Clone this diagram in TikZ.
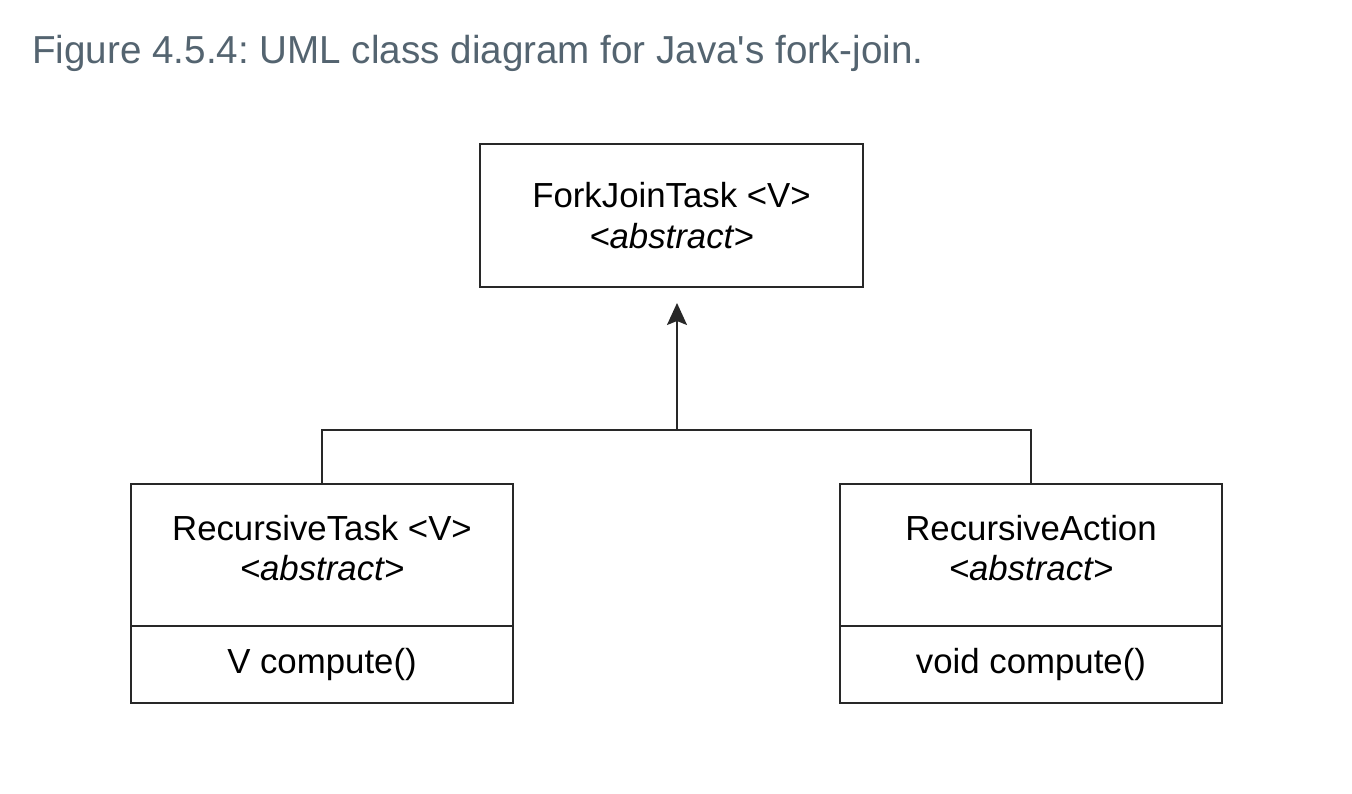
\documentclass[tikz,border=0pt]{standalone}
\usepackage{fontspec}
\setmainfont{Liberation Sans}
\usetikzlibrary{arrows.meta,positioning}
\definecolor{TitleClr}{RGB}{84,100,112}
\definecolor{LineClr}{RGB}{40,40,40}
\frenchspacing

\begin{document}
\begin{tikzpicture}[
  classbox/.style={draw=LineClr,line width=1.1pt,minimum width=7.64cm,inner sep=0pt,outer sep=0pt,
    align=center,font=\fontsize{19.8}{23}\selectfont},
  headbox/.style={classbox,minimum height=2.84cm},
  bodybox/.style={classbox,minimum height=1.54cm},
  link/.style={line width=1.1pt,color=LineClr}]
\useasboundingbox (0,0) rectangle (27.04,-15.88);

\node[anchor=base west,inner sep=0pt,text=TitleClr,font=\fontsize{22.2}{26}\selectfont] (title)
  at (0.64,-1.28) {\resizebox{17.82cm}{\height}{Figure 4.5.4: UML class diagram for Java\textquotesingle s fork-join.}};

\node[headbox,minimum width=7.66cm,minimum height=2.86cm] (FJT) at (13.43,-4.31)
  {ForkJoinTask <V>\\\textit{<abstract>}};

\node[headbox] (RTH) at (6.44,-11.1) {RecursiveTask <V>\\\textit{<abstract>}\\[-0.53cm]};
\node[bodybox,below=0pt of RTH] (RTB) {V compute()};

\node[headbox] (RAH) at (20.62,-11.1) {RecursiveAction\\\textit{<abstract>}\\[-0.53cm]};
\node[bodybox,below=0pt of RAH] (RAB) {void compute()};

\coordinate (J) at (13.54,-8.6);

\draw[link,-{Stealth[length=0.44cm,width=0.4cm,inset=0.08cm]},shorten >=0.32cm]
  (J) -- (J |- FJT.south);
\draw[link] (RTH.north) |- (J) -| (RAH.north);

\end{tikzpicture}
\end{document}
